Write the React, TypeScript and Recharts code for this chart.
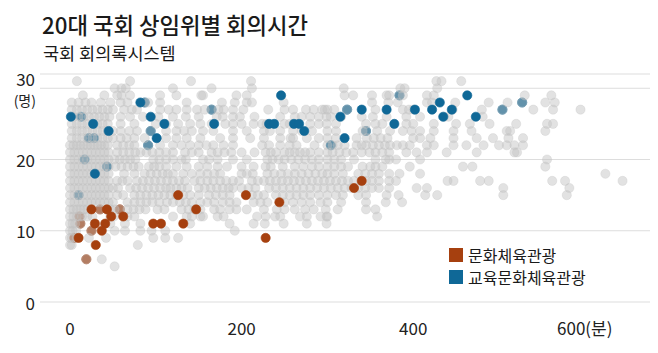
import { ScatterChart, Scatter, XAxis, YAxis, CartesianGrid } from "recharts";

const FONT = '"Noto Sans CJK KR", "Noto Sans", sans-serif';

const X_TICKS = [0, 200, 400, 600];
const Y_TICKS = [0, 10, 20, 30];

// 기타 상임위: [위원 수(명), 회의시간(분) 목록]
const otherRows: [number, number[]][] = [
  [31, [8, 70, 141, 211, 427, 433, 456]],
  [30, [52, 60, 65, 120, 165, 212, 319, 385, 390, 428]],
  [29, [15, 40, 55, 60, 70, 105, 124, 153, 155, 194, 206, 320, 330, 352, 369, 372, 384, 388, 416, 424, 530, 561]],
  [28, [2, 10, 18, 25, 36, 47, 59, 67, 87, 91, 105, 136, 177, 192, 206, 212, 249, 352, 371, 382, 416, 422, 449, 488, 510, 527, 554, 565]],
  [27, [2, 8, 14, 20, 26, 32, 38, 44, 50, 63, 72, 78, 105, 115, 124, 136, 148, 157, 165, 173, 179, 190, 202, 231, 250, 260, 275, 284, 294, 297, 300, 308, 323, 356, 388, 395, 400, 446, 480, 504, 540, 563, 595]],
  [26, [4, 10, 16, 22, 28, 34, 40, 46, 59, 70, 85, 103, 120, 135, 150, 171, 178, 190, 198, 215, 245, 262, 270, 280, 290, 299, 304, 316, 340, 353, 369, 392, 408, 436, 441, 481]],
  [25, [2, 8, 14, 20, 26, 32, 38, 44, 59, 75, 100, 112, 126, 140, 152, 165, 181, 190, 200, 214, 224, 229, 250, 256, 280, 290, 299, 310, 345, 356, 364, 392, 400, 424, 450, 466, 489, 520, 556, 563]],
  [24, [2, 8, 14, 20, 26, 32, 38, 44, 50, 59, 69, 78, 94, 112, 124, 133, 142, 155, 167, 190, 206, 226, 233, 245, 260, 270, 282, 300, 310, 341, 345, 358, 373, 388, 398, 408, 424, 447, 468, 509, 513, 554]],
  [23, [2, 8, 14, 20, 26, 32, 38, 44, 50, 59, 66, 75, 87, 112, 124, 136, 152, 175, 190, 210, 226, 245, 257, 260, 276, 290, 300, 310, 334, 346, 354, 362, 370, 400, 408, 420, 447, 474, 493, 511, 528]],
  [22, [0, 4, 8, 12, 16, 20, 24, 28, 32, 36, 40, 44, 55, 62, 69, 75, 91, 105, 120, 130, 140, 150, 159, 167, 179, 190, 224, 232, 245, 256, 264, 285, 300, 306, 312, 320, 334, 340, 345, 353, 360, 367, 373, 381, 388, 396, 416, 424, 447, 462, 482, 500, 509, 518, 528]],
  [21, [0, 5, 10, 15, 20, 25, 30, 35, 40, 45, 55, 62, 69, 76, 82, 89, 96, 104, 112, 120, 134, 142, 150, 165, 172, 180, 188, 200, 215, 228, 234, 240, 250, 256, 262, 268, 274, 280, 290, 300, 306, 314, 322, 330, 340, 349, 356, 364, 372, 392, 404, 416, 439, 474, 518, 521]],
  [20, [0, 5, 10, 15, 20, 25, 30, 35, 40, 45, 52, 58, 64, 70, 76, 97, 104, 112, 120, 130, 135, 155, 162, 172, 190, 206, 230, 236, 243, 250, 258, 266, 274, 282, 290, 300, 308, 316, 331, 356, 368, 372, 380, 408, 556]],
  [19, [0, 5, 10, 15, 20, 25, 30, 35, 40, 45, 53, 60, 67, 74, 80, 92, 98, 104, 112, 124, 136, 150, 160, 172, 183, 200, 214, 228, 234, 248, 262, 272, 282, 290, 300, 308, 316, 324, 341, 350, 356, 364, 396, 458, 469, 554]],
  [18, [0, 5, 10, 15, 20, 25, 30, 35, 40, 45, 63, 75, 87, 94, 101, 108, 114, 120, 132, 142, 152, 160, 168, 175, 200, 206, 213, 230, 238, 246, 254, 262, 270, 278, 286, 294, 300, 308, 318, 336, 344, 352, 360, 372, 384, 408, 624]],
  [17, [0, 5, 10, 15, 20, 25, 30, 35, 40, 45, 55, 61, 67, 78, 85, 92, 99, 106, 113, 120, 127, 134, 145, 152, 160, 167, 175, 182, 190, 197, 212, 219, 226, 233, 240, 247, 254, 261, 268, 275, 282, 289, 296, 303, 310, 317, 324, 331, 345, 352, 360, 372, 380, 440, 447, 478, 488, 562, 577, 644]],
  [16, [0, 5, 10, 15, 20, 25, 30, 35, 40, 45, 50, 56, 70, 77, 84, 91, 98, 105, 112, 117, 124, 130, 137, 150, 157, 164, 171, 178, 185, 190, 200, 208, 216, 232, 240, 248, 256, 264, 272, 280, 288, 296, 304, 312, 320, 328, 336, 344, 352, 360, 372, 404, 416, 505, 582]],
  [15, [0, 5, 10, 15, 20, 25, 30, 35, 40, 45, 55, 62, 75, 82, 89, 96, 103, 110, 117, 124, 132, 140, 150, 162, 170, 178, 186, 212, 219, 226, 240, 248, 256, 264, 272, 280, 290, 300, 310, 318, 336, 345, 369, 383, 414, 428, 505, 579]],
  [14, [0, 5, 10, 15, 20, 25, 30, 35, 40, 45, 50, 67, 75, 82, 89, 96, 104, 113, 120, 128, 135, 142, 152, 160, 168, 178, 186, 194, 214, 222, 230, 250, 260, 270, 280, 292, 300, 316, 345, 368, 387]],
  [13, [0, 4, 8, 12, 16, 20, 35, 47, 52, 58, 67, 74, 81, 88, 102, 110, 130, 138, 145, 152, 168, 175, 186, 194, 206, 226, 241, 250, 262, 274, 284, 298, 312, 345, 356]],
  [12, [0, 4, 8, 11, 14, 20, 26, 47, 51, 67, 75, 120, 136, 142, 152, 155, 172, 179, 218, 228, 239, 245, 268, 276, 292, 299, 300, 358]],
  [11, [0, 3, 6, 12, 47, 64, 82, 140, 186, 214, 227, 249, 276, 299]],
  [10, [0, 3, 7, 25, 52, 64, 82, 95, 111, 192]],
  [9, [0, 2, 8, 22, 42, 97, 111, 126]],
  [8, [0, 2, 79]],
  [6, [19, 37]],
  [5, [52]],
];

// 문화체육관광위 [분, 명]
const cultureFront: [number, number][] = [
  [126, 15], [147, 13], [205, 15], [244, 14], [228, 9], [25, 13], [43, 13], [62, 12], [48, 12],
  [29, 11], [41, 11], [37, 10], [97, 11], [106, 11], [132, 11], [30, 8], [10, 9], [331, 16], [340, 17],
];
const cultureBehind: [number, number][] = [[35, 13], [58, 13], [11, 12], [12, 11], [25, 10], [5, 9], [19, 6]];

// 교육문화체육관광위 [분, 명]
const eduFront: [number, number][] = [
  [1, 26], [27, 25], [29, 18], [45, 24], [82, 28], [94, 26], [101, 23], [110, 25], [168, 25], [246, 29],
  [232, 25], [238, 25], [261, 25], [267, 25], [273, 24], [315, 26], [340, 27], [369, 27], [378, 25],
  [402, 27], [422, 27], [431, 28], [435, 26], [445, 27], [463, 29], [473, 26], [320, 23],
];
const eduBehind: [number, number][] = [
  [13, 26], [28, 23], [22, 23], [17, 20], [43, 19], [87, 28], [94, 24], [91, 22], [165, 27], [304, 22],
  [323, 27], [345, 24], [384, 29], [504, 27], [527, 28], [10, 15],
];

const toPoints = (list: [number, number][]) => list.map(([x, y]) => ({ x, y }));
const otherPoints = otherRows.flatMap(([y, xs]) => xs.map((x) => ({ x, y })));

const BROWN = "#a6400f";
const BLUE = "#0f6897";

const dot = (fill: string, opacity: number) => (p: any) => (
  <circle cx={p.cx} cy={p.cy} r={4.6} fill={fill} fillOpacity={opacity} stroke={fill} strokeOpacity={opacity * 0.8} strokeWidth={0.8} />
);

// 30 눈금에는 단위 (명)을 한 줄 더 붙인다
const YTick = (p: any) => {
  const v = p.payload.value;
  if (v === 30) {
    return (
      <g>
        <text x={35} y={p.y - 10} textAnchor="end" dominantBaseline="central" fontSize={17} fill="#222" fontFamily={FONT}>
          30
        </text>
        <text x={36} y={p.y + 12} textAnchor="end" dominantBaseline="central" fontSize={14} fill="#222" fontFamily={FONT}>
          (명)
        </text>
      </g>
    );
  }
  return (
    <text x={35} y={p.y} textAnchor="end" dominantBaseline="central" fontSize={17} fill="#222" fontFamily={FONT}>
      {v}
    </text>
  );
};

const XTick = (p: any) => {
  const v = p.payload.value;
  return (
    <text x={p.x} y={327} textAnchor="middle" dominantBaseline="central" fontSize={17} fill="#222" fontFamily={FONT}>
      {v === 600 ? "600(분)" : v}
    </text>
  );
};

const legendItems = [
  { label: "문화체육관광", color: BROWN },
  { label: "교육문화체육관광", color: BLUE },
];

export default function App() {
  return (
    <div style={{ position: "absolute", left: 0, top: 0, width: 658, height: 353, background: "#fff", fontFamily: FONT }}>
      <div style={{ position: "absolute", left: 42, top: 8, fontSize: 22.3, fontWeight: 500, color: "#1a1a1a", lineHeight: "32px", whiteSpace: "nowrap" }}>
        20대 국회 상임위별 회의시간
      </div>
      <div style={{ position: "absolute", left: 43, top: 40, fontSize: 17.5, color: "#1a1a1a", lineHeight: "26px", whiteSpace: "nowrap" }}>
        국회 회의록시스템
      </div>
      <ScatterChart width={658} height={353} margin={{ top: 74, right: 8, bottom: 11, left: 0 }} style={{ position: "absolute", left: 0, top: 0 }}>
        <CartesianGrid vertical={false} stroke="#dddddd" strokeWidth={1.2} />
        <XAxis type="number" dataKey="x" domain={[-35, 676]} ticks={X_TICKS} axisLine={false} tickLine={false} height={40} tick={<XTick />} />
        <YAxis type="number" dataKey="y" domain={[0, 32]} ticks={Y_TICKS} axisLine={false} tickLine={false} width={40} tick={<YTick />} />
        <Scatter data={toPoints(cultureBehind)} shape={dot(BROWN, 1)} isAnimationActive={false} />
        <Scatter data={toPoints(eduBehind)} shape={dot(BLUE, 1)} isAnimationActive={false} />
        <Scatter data={otherPoints} shape={dot("#c2c2c2", 0.47)} isAnimationActive={false} />
        <Scatter data={toPoints(cultureFront)} shape={dot(BROWN, 1)} isAnimationActive={false} />
        <Scatter data={toPoints(eduFront)} shape={dot(BLUE, 1)} isAnimationActive={false} />
      </ScatterChart>
      <div style={{ position: "absolute", left: 449, top: 244 }}>
        {legendItems.map((it) => (
          <div key={it.label} style={{ display: "flex", alignItems: "center", height: 22, fontSize: 16, color: "#1a1a1a", whiteSpace: "nowrap" }}>
            <span style={{ display: "inline-block", width: 14, height: 14, background: it.color, marginRight: 5 }} />
            {it.label}
          </div>
        ))}
      </div>
    </div>
  );
}
